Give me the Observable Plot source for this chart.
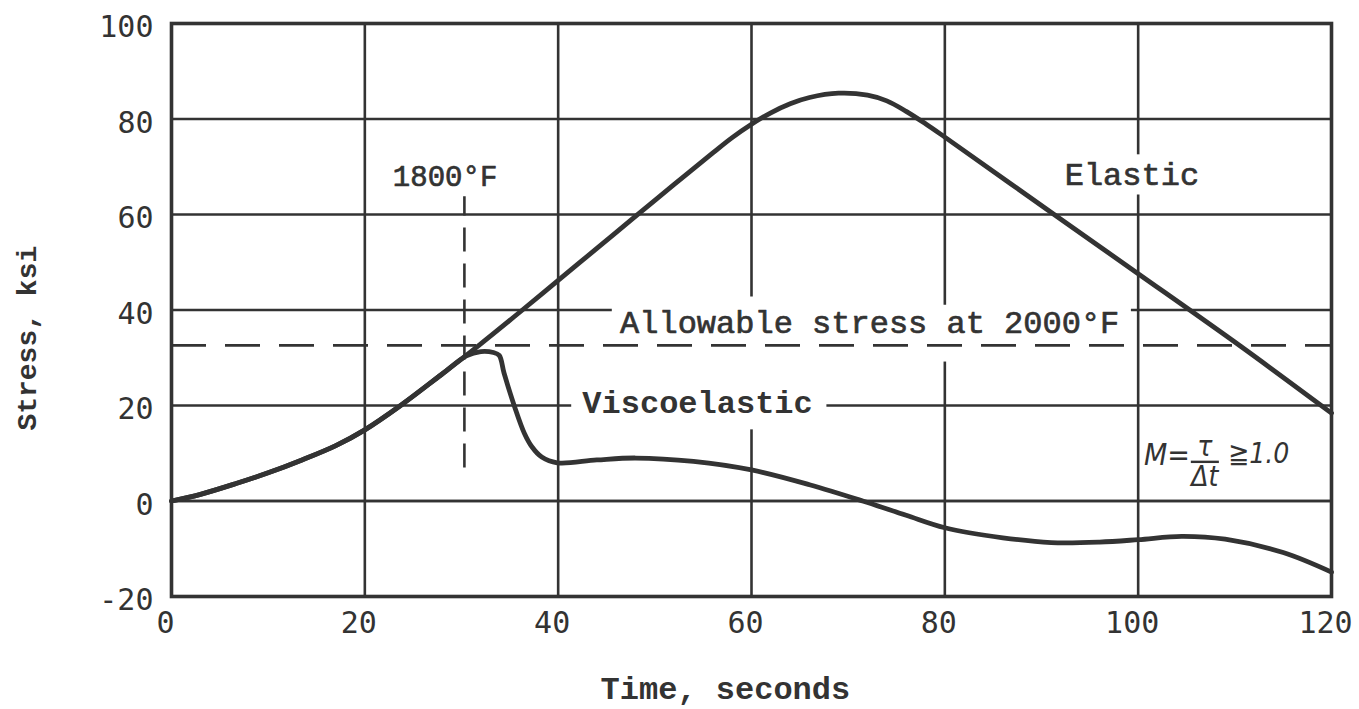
<!DOCTYPE html>
<html>
<head>
<meta charset="utf-8">
<script src="https://cdn.jsdelivr.net/npm/d3@7"></script>
<script src="https://cdn.jsdelivr.net/npm/@observablehq/plot@0.6"></script>
<style>
  html, body { margin: 0; padding: 0; background: #fff; }
  #chart svg { display: block; }
</style>
</head>
<body>
<div id="chart"></div>
<script>
// Thermal stress history: elastic vs viscoelastic response
const elasticTime   = [0, 3, 6.6, 10, 13.5, 17, 20, 23.7, 28, 31.8, 36.3, 40, 44, 47.8, 52, 56, 58, 60, 62, 64, 66, 69, 72, 74, 76, 78, 80, 92, 100, 110.6, 120];
const elasticStress = [0, 1.4, 3.6, 5.9, 8.6, 11.6, 14.9, 20, 26.6, 32.6, 40, 46.2, 52.9, 59.3, 66.3, 72.9, 76.1, 78.9, 81.3, 83.2, 84.5, 85.4, 85.0, 83.8, 81.6, 79.0, 76.2, 59, 47.6, 32.4, 18.4];

const viscoTime   = [0, 3, 6.6, 10, 13.5, 17, 20, 23.7, 28, 30.5, 32, 33.3, 33.9, 34.4, 35.5, 36.5, 37.3, 38.3, 39.9, 44, 48, 54, 60, 66, 71.5, 76, 80, 86, 91, 96, 100, 104.5, 109, 115, 120];
const viscoStress = [0, 1.4, 3.6, 5.9, 8.6, 11.6, 14.9, 20, 26.6, 30.4, 31.3, 31.1, 30.5, 26.8, 19.7, 14.2, 11.3, 9.2, 8.0, 8.6, 9.0, 8.3, 6.5, 3.4, 0, -3, -5.6, -7.7, -8.7, -8.6, -8.1, -7.4, -8.0, -10.8, -14.9];

const xTicks = [0, 20, 40, 60, 80, 100, 120];
const yTicks = [-20, 0, 20, 40, 60, 80, 100];

const allowableStress = 32.6;   // ksi, at 2000°F
const transitionTime = 30.3;    // s, surface reaches 1800°F
const transitionSpan = [6.9, 63.7];

const elastic = elasticTime.map((t, i) => ({t, s: elasticStress[i]}));
const visco = viscoTime.map((t, i) => ({t, s: viscoStress[i]}));

// Grid rules, broken where the annotations sit
const clearV = {60: [[14.9, 42.7]], 80: [[29.1, 41]], 100: [[64.1, 72.5]]};
const clearH = {20: [[41.4, 67.8]], 40: [[45.6, 99.3]]};
function pieces(lo, hi, gaps) {
  const out = [];
  let a = lo;
  for (const [g0, g1] of (gaps || [])) { out.push([a, g0]); a = g1; }
  out.push([a, hi]);
  return out;
}
const gridV = xTicks.slice(1, -1).flatMap(x => pieces(-20, 100, clearV[x]).map(([y1, y2]) => ({x, y1, y2})));
const gridH = yTicks.slice(1, -1).flatMap(y => pieces(0, 120, clearH[y]).map(([x1, x2]) => ({y, x1, x2})));

const ink = "#333";
const mono = "'Liberation Mono', 'DejaVu Sans Mono', monospace";
const tickFont = "'DejaVu Sans Mono', monospace";
const hand = "'Liberation Sans Narrow', 'DejaVu Sans Condensed', 'DejaVu Sans', sans-serif";
const typed = {fontFamily: mono, fill: ink, stroke: ink, strokeWidth: 0.7};

const chart = Plot.plot({
  width: 1359,
  height: 709,
  marginLeft: 171,
  marginRight: 28,
  marginTop: 23,
  marginBottom: 113,
  x: {domain: [0, 120]},
  y: {domain: [-20, 100]},
  style: {background: "#fff", color: ink},
  marks: [
    Plot.ruleX(gridV, {x: "x", y1: "y1", y2: "y2", stroke: ink, strokeWidth: 2.6}),
    Plot.ruleY(gridH, {y: "y", x1: "x1", x2: "x2", stroke: ink, strokeWidth: 2.6}),
    Plot.ruleY([0], {stroke: ink, strokeWidth: 2.6}),
    Plot.frame({stroke: ink, strokeWidth: 3.6}),

    Plot.ruleY([allowableStress], {stroke: ink, strokeWidth: 2.6, strokeDasharray: "35,19"}),
    Plot.ruleX([transitionTime], {y1: transitionSpan[0], y2: transitionSpan[1], stroke: ink, strokeWidth: 2.6, strokeDasharray: "24,12"}),

    Plot.line(elastic, {x: "t", y: "s", curve: "catmull-rom", stroke: ink, strokeWidth: 4.8}),
    Plot.line(visco, {x: "t", y: "s", curve: "catmull-rom", stroke: ink, strokeWidth: 4.8}),

    Plot.axisX({ticks: xTicks, tickSize: 0, tickPadding: 15, dx: -6, label: null, tickFormat: d => String(d), fontSize: 30, fontFamily: tickFont, fill: ink}),
    Plot.axisY({ticks: yTicks, tickSize: 0, tickPadding: 18, dy: 4, label: null, tickFormat: d => String(d), fontSize: 30, fontFamily: tickFont, fill: ink}),

    Plot.text(["Time, seconds"], {frameAnchor: "bottom", x: 57.3, dy: 102, fontSize: 32, fontFamily: mono, fontWeight: "bold", fill: ink}),
    Plot.text(["Stress, ksi"], {frameAnchor: "left", textAnchor: "middle", y: 34.1, dx: -144, rotate: -90, fontSize: 28, fontFamily: mono, fontWeight: "bold", fill: ink}),

    Plot.text(["1800°F"], {x: 28.3, y: 67.9, fontSize: 29, ...typed}),
    Plot.text(["Allowable stress at 2000°F"], {x: 46.4, y: 37.3, textAnchor: "start", fontSize: 32, ...typed}),
    Plot.text(["Viscoelastic"], {x: 42.5, y: 20.5, textAnchor: "start", fontSize: 32, fontFamily: mono, fontWeight: "bold", fill: ink}),
    Plot.text(["Elastic"], {x: 92.4, y: 68.3, textAnchor: "start", fontSize: 32, ...typed}),

    Plot.text(["M="], {x: 100.6, y: 9.6, textAnchor: "start", fontSize: 30, fontStyle: "italic", fontFamily: hand, fill: ink}),
    Plot.text(["τ"], {x: 106.9, y: 11.3, fontSize: 28, fontStyle: "italic", fontFamily: hand, fill: ink}),
    Plot.ruleY([8.2], {x1: 105.5, x2: 108.4, stroke: ink, strokeWidth: 2.4}),
    Plot.text(["Δt"], {x: 106.9, y: 5.0, fontSize: 28, fontStyle: "italic", fontFamily: hand, fill: ink}),
    Plot.text(["≧1.0"], {x: 109.3, y: 9.8, textAnchor: "start", fontSize: 28, fontStyle: "italic", fontFamily: hand, fill: ink})
  ]
});

document.getElementById("chart").append(chart);
</script>
</body>
</html>
